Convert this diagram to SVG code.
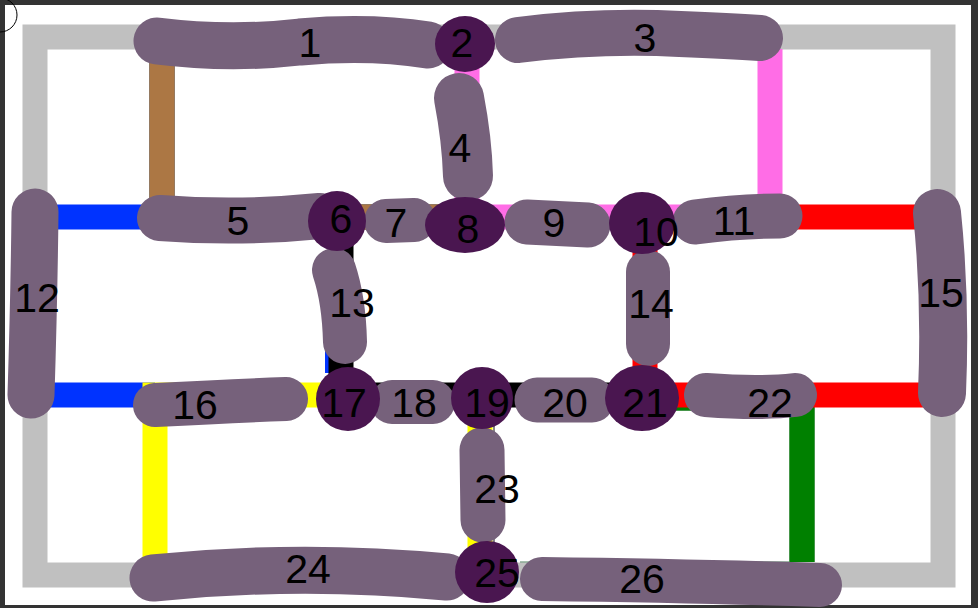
<svg xmlns="http://www.w3.org/2000/svg" width="978" height="608" viewBox="0 0 978 608">
<style>
.ln{fill:none;stroke-width:25;stroke-linecap:butt;stroke-linejoin:miter}
.lt{fill:none;stroke:#76617b;stroke-linecap:round;stroke-linejoin:round}
.dk{fill:#4a1650}
.t{font-family:"Liberation Sans",Arial,sans-serif;font-size:41px;fill:#000;text-anchor:middle}
</style>
<rect x="0" y="0" width="978" height="608" fill="#fff"/>
<g id="frame">
<rect x="0" y="0" width="978" height="5" fill="#333"/>
<rect x="0" y="605" width="978" height="3" fill="#333"/>
<rect x="0" y="0" width="5" height="608" fill="#333"/>
<rect x="971" y="0" width="7" height="608" fill="#333"/>
</g>
<g id="connectors">
<rect x="35" y="37" width="908" height="538" class="ln" stroke="#c0c0c0"/>
<line x1="520" y1="562" x2="789" y2="562" stroke="#4f7f5f" stroke-width="1"/>
<polyline points="162,49 162,217 440,217" class="ln" stroke="#000" stroke-width="27"/>
<polyline points="162,49 162,217 440,217" class="ln" stroke="#ac7744"/>
<line x1="48" y1="217" x2="150" y2="217" class="ln" stroke="#0033ff"/>
<polyline points="467,49 467,217 770,217 770,49" class="ln" stroke="#ff6de6"/>
<line x1="783" y1="217" x2="930" y2="217" class="ln" stroke="#ff0000"/>
<rect x="325" y="345" width="4" height="28" fill="#0033ff"/>
<line x1="341" y1="217" x2="341" y2="395" class="ln" stroke="#000"/>
<line x1="48" y1="395" x2="155" y2="395" class="ln" stroke="#0033ff"/>
<polyline points="155,562 155,395 340,395" class="ln" stroke="#ffff00"/>
<line x1="340" y1="395" x2="645" y2="395" class="ln" stroke="#000"/>
<line x1="494" y1="395" x2="494" y2="562" stroke="#888" stroke-width="2"/>
<line x1="480" y1="395" x2="480" y2="562" class="ln" stroke="#ffff00"/>
<polyline points="802,562 802,398 660,398" class="ln" stroke="#1a5a2a" stroke-width="27"/>
<polyline points="802,562 802,398 660,398" class="ln" stroke="#008000"/>
<polyline points="645,217 645,395 930,395" class="ln" stroke="#ff0000"/>
</g>
<circle cx="0" cy="15" r="17" fill="none" stroke="#000" stroke-width="1"/>
<g id="n1"><path class="lt" stroke-width="47" d="M157,41 Q230,50 300,42 Q370,36 428,45"/><text class="t" x="310" y="57">1</text></g>
<g id="n3"><path class="lt" stroke-width="46" d="M518,40 Q600,30 680,34 Q730,36 760,38"/><text class="t" x="645" y="52">3</text></g>
<g id="n2"><ellipse class="dk" cx="465" cy="44" rx="30" ry="28"/><text class="t" x="462" y="57">2</text></g>
<g id="n4"><path class="lt" stroke-width="50" d="M459,98 Q467,140 468,176"/><text class="t" x="460" y="162">4</text></g>
<g id="n5"><path class="lt" stroke-width="46" d="M160,218 Q240,224 320,216"/><text class="t" x="238" y="235">5</text></g>
<g id="n7"><path class="lt" stroke-width="44" d="M386,221 L414,220"/><text class="t" x="396" y="237">7</text></g>
<g id="n9"><path class="lt" stroke-width="45" d="M527,222 L588,225"/><text class="t" x="554" y="237">9</text></g>
<g id="n11"><path class="lt" stroke-width="45" d="M695,222 Q740,216 780,216"/><text class="t" x="734" y="235">11</text></g>
<g id="n12"><path class="lt" stroke-width="47" d="M35,212 Q34,300 31,395"/><text class="t" x="37" y="312">12</text></g>
<g id="n13"><path class="lt" stroke-width="44" d="M334,270 Q344,300 345,342"/><text class="t" x="352" y="317">13</text></g>
<g id="n14"><path class="lt" stroke-width="44" d="M648,272 L648,344"/><text class="t" x="651" y="318">14</text></g>
<g id="n15"><path class="lt" stroke-width="48" d="M937,213 Q946,300 942,393"/><text class="t" x="941" y="307">15</text></g>
<g id="n6"><ellipse class="dk" cx="337" cy="221" rx="29" ry="30"/><text class="t" x="341" y="233">6</text></g>
<g id="n8"><ellipse class="dk" cx="465" cy="225" rx="40" ry="28"/><text class="t" x="468" y="243">8</text></g>
<g id="n10"><ellipse class="dk" cx="642" cy="223" rx="33" ry="31"/><text class="t" x="656" y="246">10</text></g>
<g id="n16"><path class="lt" stroke-width="44" d="M155,405 Q230,401 286,399"/><text class="t" x="195" y="419">16</text></g>
<g id="n18"><path class="lt" stroke-width="44" d="M392,402 L433,402"/><text class="t" x="414" y="417">18</text></g>
<g id="n20"><path class="lt" stroke-width="45" d="M537,400 L592,400"/><text class="t" x="565" y="417">20</text></g>
<g id="n22"><path class="lt" stroke-width="44" d="M706,395 Q760,399 795,395"/><text class="t" x="770" y="417">22</text></g>
<g id="n23"><path class="lt" stroke-width="45" d="M482,450 L483,520"/><text class="t" x="497" y="503">23</text></g>
<g id="n17"><ellipse class="dk" cx="348" cy="399" rx="32" ry="32"/><text class="t" x="344" y="417">17</text></g>
<g id="n19"><ellipse class="dk" cx="482" cy="398" rx="31" ry="31"/><text class="t" x="487" y="417">19</text></g>
<g id="n21"><ellipse class="dk" cx="642" cy="398" rx="37" ry="33"/><text class="t" x="645" y="417">21</text></g>
<g id="n24"><path class="lt" stroke-width="47" d="M153,578 Q300,563 447,577"/><text class="t" x="308" y="583">24</text></g>
<g id="n26"><path class="lt" stroke-width="44" d="M542,579 Q700,581 820,585"/><text class="t" x="642" y="593">26</text></g>
<g id="n25"><ellipse class="dk" cx="487" cy="572" rx="32" ry="31"/><text class="t" x="497" y="587">25</text></g>
</svg>
